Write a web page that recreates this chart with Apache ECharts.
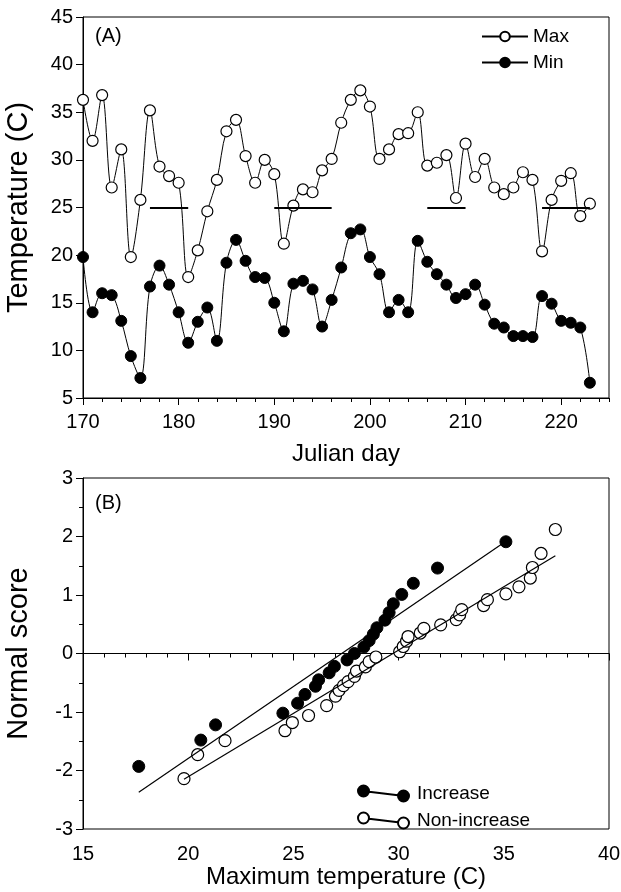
<!DOCTYPE html>
<html>
<head>
<meta charset="utf-8">
<script src="https://cdn.jsdelivr.net/npm/echarts@6/dist/echarts.min.js"></script>
<style>
html,body{margin:0;padding:0;background:#fff;}
#chart{width:621px;height:892px;}
</style>
</head>
<body>
<div id="chart"></div>
<script>
// panel A: daily temperatures
var days = [170,171,172,173,174,175,176,177,178,179,180,181,182,183,184,185,186,187,188,189,
  190,191,192,193,194,195,196,197,198,199,200,201,202,203,204,205,206,207,208,209,
  210,211,212,213,214,215,216,217,218,219,220,221,222,223];
var maxTemp = [36.3,32.0,36.8,27.1,31.1,19.8,25.8,35.2,29.3,28.3,27.6,17.7,20.5,24.6,27.9,33.0,34.2,30.4,27.6,30.0,
  28.5,21.2,25.2,26.9,26.6,28.9,30.1,33.9,36.3,37.3,35.6,30.1,31.1,32.7,32.8,35.0,29.4,29.7,30.5,26.0,
  31.7,28.2,30.1,27.1,26.4,27.1,28.7,27.9,20.4,25.8,27.8,28.6,24.1,25.4];
var minTemp = [19.8,14.0,16.0,15.8,13.1,9.4,7.1,16.7,18.9,16.9,14.0,10.8,13.0,14.5,11.0,19.2,21.6,19.4,17.7,17.6,
  15.0,12.0,17.0,17.3,16.4,12.5,15.3,18.7,22.3,22.7,19.8,18.0,14.0,15.3,14.0,21.5,19.3,18.0,16.9,15.5,
  15.9,16.9,14.8,12.8,12.4,11.5,11.5,11.4,15.7,14.9,13.1,12.9,12.4,6.6];
var incPeriods = [[177,181],[190,196],[206,210],[218,223]];
var incLevel = 25;
var dayTicks = [170,180,190,200,210,220];

// panel B: normal scores of maximum temperature
var incTemp = [17.65,20.6,21.3,24.5,25.2,25.55,26.05,26.2,26.7,26.95,27.55,27.9,28.35,28.6,28.8,28.97,29.35,29.55,29.75,30.15,30.7,31.85,35.1];
var incScore = [-1.93,-1.48,-1.22,-1.02,-0.85,-0.70,-0.56,-0.45,-0.33,-0.22,-0.11,0.0,0.11,0.22,0.33,0.44,0.57,0.70,0.85,1.01,1.2,1.46,1.91];
var nonTemp = [19.8,20.45,21.75,24.6,24.95,25.72,26.58,27.0,27.17,27.38,27.6,27.9,28.0,28.42,28.6,28.92,30.05,30.22,30.38,30.45,31.03,31.2,32.0,32.74,32.9,33.0,34.04,34.22,35.1,35.72,36.26,36.36,36.77,37.45];
var nonScore = [-2.14,-1.73,-1.49,-1.32,-1.18,-1.06,-0.89,-0.73,-0.63,-0.55,-0.48,-0.39,-0.30,-0.23,-0.14,-0.06,0.03,0.12,0.21,0.29,0.35,0.43,0.49,0.58,0.66,0.75,0.82,0.92,1.02,1.14,1.29,1.47,1.71,2.12];
var incFit = [[17.65,-2.37],[35.1,1.92]];
var nonFit = [[19.8,-2.15],[37.45,1.67]];

function pairs(xs, ys) {
  var out = [];
  for (var i = 0; i < xs.length; i++) out.push([xs[i], ys[i]]);
  return out;
}

var font = 'Liberation Sans, Arial, sans-serif';
var lab = {color:'#000', fontFamily:font, fontSize:20};
var xTtl = {color:'#000', fontFamily:font, fontSize:24};
var yTtl = {color:'#000', fontFamily:font, fontSize:29};
var iconInc = 'path://M0.5,6a5.5,5.5 0 1,0 11,0a5.5,5.5 0 1,0 -11,0Z M11.5,6.7L40.5,10.3 M40.5,11a5.5,5.5 0 1,0 11,0a5.5,5.5 0 1,0 -11,0Z';

var chart = echarts.init(document.getElementById('chart'), null, {renderer:'canvas'});
chart.setOption({
  animation:false,
  backgroundColor:'#fff',
  title:[
    {text:'(A)', left:90, top:21, textStyle:{color:'#000', fontFamily:font, fontSize:20, fontWeight:'normal'}},
    {text:'(B)', left:90, top:488, textStyle:{color:'#000', fontFamily:font, fontSize:20, fontWeight:'normal'}}
  ],
  legend:[
    {orient:'vertical', left:476, top:22, itemWidth:46, itemHeight:12, itemGap:7,
     textStyle:{color:'#000', fontFamily:font, fontSize:19},
     data:['Max','Min']},
    {orient:'vertical', left:352, top:779, itemWidth:51, itemHeight:16, itemGap:8,
     textStyle:{color:'#000', fontFamily:font, fontSize:19, padding:[0,0,0,3]},
     data:[{name:'Increase', icon:iconInc}, {name:'Non-increase', icon:iconInc}]}
  ],
  grid:[
    {left:83, top:17, width:526, height:381, show:true, borderColor:'#000', borderWidth:1,
     containLabel:false, outerBoundsMode:'none'},
    {left:83, top:478, width:526, height:351, show:true, borderColor:'#000', borderWidth:1,
     containLabel:false, outerBoundsMode:'none'}
  ],
  xAxis:[
    {gridIndex:0, type:'value', min:170, max:225, interval:10,
     name:'Julian day', nameLocation:'middle', nameGap:44, nameTextStyle:xTtl,
     axisLine:{show:true, lineStyle:{color:'#000', width:1}},
     axisTick:{show:true, length:7, customValues:dayTicks, lineStyle:{color:'#000'}},
     axisLabel:{customValues:dayTicks, margin:14, ...lab},
     splitLine:{show:false}},
    {gridIndex:0, type:'value', min:170, max:225, interval:2, position:'bottom',
     axisLine:{show:false}, axisLabel:{show:false}, splitLine:{show:false},
     axisTick:{show:true, length:4, lineStyle:{color:'#000'}}},
    {gridIndex:1, type:'value', min:15, max:40, interval:5,
     name:'Maximum temperature (C)', nameLocation:'middle', nameGap:35, nameTextStyle:xTtl,
     axisLine:{show:true, lineStyle:{color:'#000', width:1}},
     axisTick:{show:true, length:7, lineStyle:{color:'#000'}},
     minorTick:{show:true, splitNumber:5, length:4, lineStyle:{color:'#000'}},
     axisLabel:{margin:15, ...lab},
     splitLine:{show:false}}
  ],
  yAxis:[
    {gridIndex:0, type:'value', min:5, max:45, interval:5,
     name:'Temperature (C)', nameLocation:'middle', nameGap:50, nameTextStyle:yTtl,
     axisLine:{show:true, lineStyle:{color:'#000', width:1}},
     axisTick:{show:true, length:7, lineStyle:{color:'#000'}},
     axisLabel:{margin:10, ...lab},
     splitLine:{show:false}},
    {gridIndex:1, type:'value', min:-3, max:3, interval:1,
     name:'Normal score', nameLocation:'middle', nameGap:50, nameTextStyle:yTtl,
     axisLine:{show:true, lineStyle:{color:'#000', width:1}},
     axisTick:{show:true, length:7, lineStyle:{color:'#000'}},
     minorTick:{show:true, splitNumber:2, length:4, lineStyle:{color:'#000'}},
     axisLabel:{margin:10, ...lab},
     splitLine:{show:false}}
  ],
  series:[
    {name:'Max', type:'line', xAxisIndex:0, yAxisIndex:0, data:pairs(days, maxTemp),
     smooth:0.35, symbol:'circle', symbolSize:11,
     lineStyle:{color:'#000', width:1},
     itemStyle:{color:'#fff', borderColor:'#000', borderWidth:1.2},
     markLine:{silent:true, symbol:'none', label:{show:false},
       lineStyle:{color:'#000', width:2, type:'solid'},
       data:incPeriods.map(function (p) { return [{coord:[p[0], incLevel]}, {coord:[p[1], incLevel]}]; })}},
    {name:'Min', type:'line', xAxisIndex:0, yAxisIndex:0, data:pairs(days, minTemp),
     smooth:0.35, symbol:'circle', symbolSize:11,
     lineStyle:{color:'#000', width:1},
     itemStyle:{color:'#000', borderColor:'#000', borderWidth:1}},
    {name:'incFit', type:'line', xAxisIndex:2, yAxisIndex:1, data:incFit,
     symbol:'none', lineStyle:{color:'#000', width:1.2}, silent:true},
    {name:'nonFit', type:'line', xAxisIndex:2, yAxisIndex:1, data:nonFit,
     symbol:'none', lineStyle:{color:'#000', width:1.2}, silent:true},
    {name:'Non-increase', type:'scatter', xAxisIndex:2, yAxisIndex:1, data:pairs(nonTemp, nonScore),
     symbolSize:12, itemStyle:{color:'#fff', borderColor:'#000', borderWidth:1.2, opacity:1}},
    {name:'Increase', type:'scatter', xAxisIndex:2, yAxisIndex:1, data:pairs(incTemp, incScore),
     symbolSize:12, itemStyle:{color:'#000', borderColor:'#000', borderWidth:1, opacity:1}}
  ]
});
</script>
</body>
</html>
